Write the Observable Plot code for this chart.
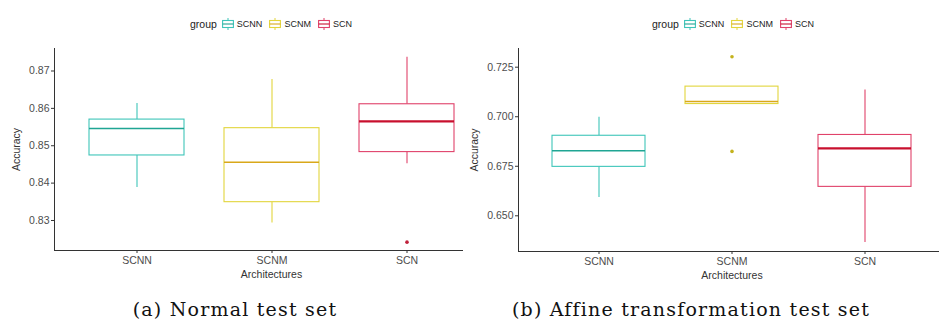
<!DOCTYPE html>
<html>
<head>
<meta charset="utf-8">
<script src="https://cdn.jsdelivr.net/npm/d3@7"></script>
<script src="https://cdn.jsdelivr.net/npm/@observablehq/plot@0.6"></script>
<style>
  html, body { margin: 0; padding: 0; background: #fff; }
  body { width: 939px; height: 322px; position: relative; overflow: hidden; font-family: "Liberation Sans", Arial, sans-serif; }
  .col { position: absolute; top: 0; height: 290px; overflow: hidden; }
  .col > svg { position: absolute; top: 0; left: 0; max-width: none !important; height: 285px !important; }
  .legend { position: absolute; top: 18px; display: flex; align-items: center; color: #222; white-space: nowrap; }
  .legend .title { margin-right: 5px; font-size: 10.5px; }
  .legend .key { width: 12px; height: 12px; margin-right: 3px; display: block; }
  .legend .lab { margin-right: 7px; font-size: 9px; }
  .caption { position: absolute; top: 298px; font-family: "DejaVu Serif", serif; font-size: 19px; letter-spacing: 1.2px; color: #111; text-align: center; white-space: nowrap; }
  g[aria-label$="tick label"] { fill: #4d4d4d; }
</style>
</head>
<body>
<div id="colA" class="col" style="left:0; width:463px;"></div>
<div id="colB" class="col" style="left:463px; width:476px;"></div>
<div class="caption" style="left:35px; width:400px;">(a) Normal test set</div>
<div class="caption" style="left:491px; width:400px;">(b) Affine transformation test set</div>
<script>
// ---------- data ----------
const groups = ["SCNN", "SCNM", "SCN"];

// (a) Normal test set
const normalLow    = [0.8388, 0.8293, 0.8452];
const normalQ1     = [0.8474, 0.8349, 0.8483];
const normalMedian = [0.8546, 0.8456, 0.8565];
const normalQ3     = [0.8570, 0.8547, 0.8611];
const normalHigh   = [0.8613, 0.8677, 0.8737];
const normalOutlierGroups = ["SCN"];
const normalOutlierValues = [0.8242];
const normalTicks = [0.83, 0.84, 0.85, 0.86, 0.87];

// (b) Affine transformation test set
const affineLow    = [0.6592, 0.7064, 0.6365];
const affineQ1     = [0.6747, 0.7064, 0.6646];
const affineMedian = [0.6828, 0.7077, 0.6840];
const affineQ3     = [0.6904, 0.7152, 0.6908];
const affineHigh   = [0.6997, 0.7152, 0.7135];
const affineOutlierGroups = ["SCNM", "SCNM"];
const affineOutlierValues = [0.7303, 0.6825];
const affineTicks = [0.650, 0.675, 0.700, 0.725];

// ---------- styling ----------
const boxColor = {SCNN: "#3ec5b9", SCNM: "#e2d53c", SCN: "#e0426a"};
const medColor = {SCNN: "#1fa593", SCNM: "#d9a81a", SCN: "#c8102e"};
const medWidth = {SCNN: 1.6, SCNM: 1.6, SCN: 2.2};
const outColor = {SCN: "#c0203a", SCNM: "#c4b21c"};

function rows(lo, q1, med, q3, hi) {
  return groups.map((g, i) => ({group: g, lo: lo[i], q1: q1[i], med: med[i], q3: q3[i], hi: hi[i]}));
}
function outliers(gs, vs) { return gs.map((g, i) => ({group: g, value: vs[i]})); }

function chart({data, outs, ticks, fmt, domain, width, marginLeft, marginBottom, labelOffsetY}) {
  return Plot.plot({
    width, height: 285,
    marginLeft, marginRight: 0, marginTop: 48, marginBottom,
    style: {fontFamily: "'Liberation Sans', Arial, sans-serif", fontSize: "10.5px", color: "#333", background: "transparent", maxWidth: "none"},
    x: {type: "band", domain: groups, paddingInner: 0.3, paddingOuter: 0.25, line: true, tickSize: 3, tickPadding: 3,
        label: "Architectures", labelAnchor: "center", labelOffset: 27, labelArrow: "none"},
    y: {domain, ticks, tickFormat: d3.format(fmt), line: true, tickSize: 3, tickPadding: 2,
        label: "Accuracy", labelAnchor: "center", labelOffset: labelOffsetY, labelArrow: "none"},
    color: {type: "identity"},
    marks: [
      Plot.ruleX(data, {x: "group", y1: "q3", y2: "hi", stroke: d => boxColor[d.group], strokeWidth: 1.1}),
      Plot.ruleX(data, {x: "group", y1: "lo", y2: "q1", stroke: d => boxColor[d.group], strokeWidth: 1.1}),
      Plot.barY(data, {x: "group", y1: "q1", y2: "q3", fill: "white", stroke: d => boxColor[d.group], strokeWidth: 1.1}),
      Plot.tickY(data, {x: "group", y: "med", stroke: d => medColor[d.group], strokeWidth: d => medWidth[d.group]}),
      Plot.dot(outs, {x: "group", y: "value", r: 1.8, fill: d => outColor[d.group], stroke: "none"})
    ]
  });
}

function legend(left) {
  const div = document.createElement("div");
  div.className = "legend";
  div.style.left = left + "px";
  let html = `<span class="title">group</span>`;
  for (const g of groups) {
    html += `<svg class="key" viewBox="0 0 12 12"><line x1="6" y1="0" x2="6" y2="12" stroke="${boxColor[g]}" stroke-width="1"/><rect x="0.6" y="2.5" width="10.8" height="7" fill="white" stroke="${boxColor[g]}" stroke-width="1.1"/><line x1="0.6" y1="6" x2="11.4" y2="6" stroke="${medColor[g]}" stroke-width="1.1"/></svg><span class="lab">${g}</span>`;
  }
  div.innerHTML = html;
  return div;
}

const colA = document.getElementById("colA");
colA.append(chart({
  data: rows(normalLow, normalQ1, normalMedian, normalQ3, normalHigh),
  outs: outliers(normalOutlierGroups, normalOutlierValues),
  ticks: normalTicks, fmt: ".2f", domain: [0.82197, 0.87602],
  width: 488, marginLeft: 54, marginBottom: 35, labelOffsetY: 42
}));
colA.append(legend(190));

const colB = document.getElementById("colB");
colB.append(chart({
  data: rows(affineLow, affineQ1, affineMedian, affineQ3, affineHigh),
  outs: outliers(affineOutlierGroups, affineOutlierValues),
  ticks: affineTicks, fmt: ".3f", domain: [0.63198, 0.73444],
  width: 482, marginLeft: 55, marginBottom: 34, labelOffsetY: 48
}));
colB.append(legend(189));
</script>
</body>
</html>
